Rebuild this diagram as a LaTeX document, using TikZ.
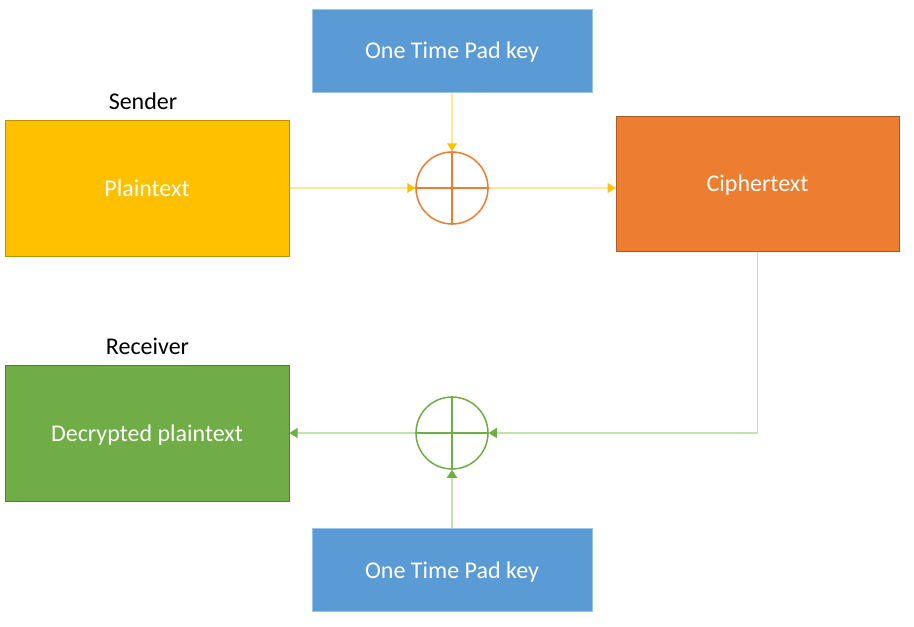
\documentclass[tikz,border=0pt]{standalone}
\usepackage{fontspec}
\setmainfont{Carlito}
\usetikzlibrary{arrows.meta}

\definecolor{keyblue}{HTML}{5B9BD5}
\definecolor{keyedge}{HTML}{9DC3E6}
\definecolor{plainyellow}{HTML}{FFC000}
\definecolor{plainedge}{HTML}{BF9000}
\definecolor{cipherorange}{HTML}{ED7D31}
\definecolor{cipheredge}{HTML}{AE5A21}
\definecolor{decgreen}{HTML}{70AD47}
\definecolor{decedge}{HTML}{507E32}
\definecolor{paleyellow}{HTML}{FFE699}
\definecolor{palegreen}{HTML}{C5E0B4}

\tikzset{
  block/.style={rectangle, inner sep=0pt, line width=1pt, text=white,
    text depth=0pt, font=\fontsize{24}{28}\selectfont},
  keybox/.style={block, fill=keyblue, draw=keyedge,
    minimum width=280pt, minimum height=83pt},
  xorop/.style={circle, draw, line width=1.5pt, minimum size=72pt, inner sep=0pt},
  role/.style={font=\fontsize{24}{28}\selectfont},
  enc/.style={line width=1.5pt, draw=paleyellow,
    -{Triangle[length=8pt,width=10pt,color=plainyellow]}},
  dec/.style={line width=1.5pt, draw=palegreen,
    -{Triangle[length=8pt,width=10pt,color=decgreen]}},
}

\begin{document}
\begin{tikzpicture}[x=1pt,y=-1pt]
    \useasboundingbox (0,0) rectangle (914,627);

    \node[keybox] (KEYA) at (452,50.5) {One Time Pad key};
    \node[block, fill=plainyellow, draw=plainedge,
      minimum width=284pt, minimum height=136pt] (PLAIN) at (147,188.5) {Plaintext};
    \node[block, fill=cipherorange, draw=cipheredge,
      minimum width=283pt, minimum height=135pt] (CIPHER) at (757.5,183.5) {Ciphertext};
    \node[block, fill=decgreen, draw=decedge,
      minimum width=284pt, minimum height=136pt] (DEC) at (147,433) {Decrypted plaintext};
    \node[keybox] (KEYB) at (452,570) {One Time Pad key};

    \node[role] (SENDER) at (143,101) {Sender};
    \node[role] (RECEIVER) at (147.5,346) {Receiver};

    \node[xorop, draw=cipherorange] (XORA) at (452,188) {};
    \node[xorop, draw=decgreen] (XORB) at (452,433) {};
    \draw [line width=1.5pt, cipherorange] (XORA.north) -- (XORA.south);
    \draw [line width=1.5pt, cipherorange] (XORA.west) -- (XORA.east);
    \draw [line width=1.5pt, decgreen] (XORB.north) -- (XORB.south);
    \draw [line width=1.5pt, decgreen] (XORB.west) -- (XORB.east);

    \draw [enc] (PLAIN.east |- XORA) -- (XORA.west);
    \draw [enc] (KEYA.south) -- (XORA.north);
    \draw [enc] (XORA.east) -- (XORA.east -| CIPHER.west);

    \draw [dec] (CIPHER.south) |- (XORB.east);
    \draw [dec] (XORB.west) -- (XORB.west -| DEC.east);
    \draw [dec] (KEYB.north) -- (XORB.south);
\end{tikzpicture}
\end{document}
